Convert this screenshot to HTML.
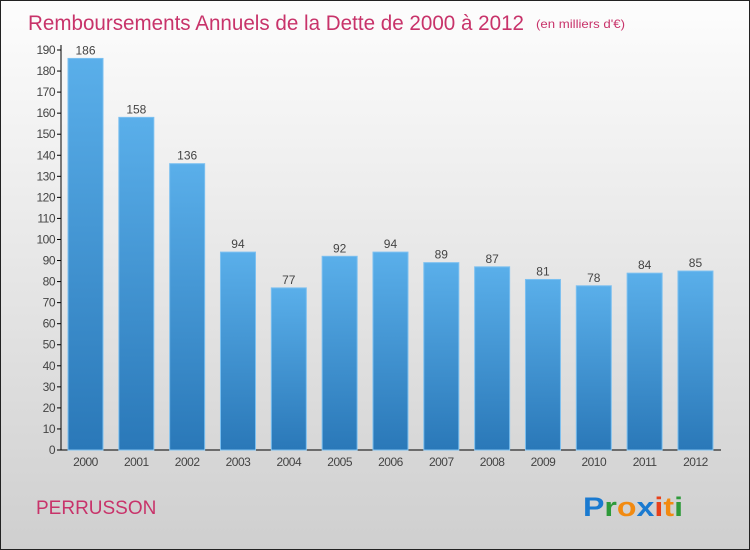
<!DOCTYPE html>
<html><head><meta charset="utf-8"><style>
body{margin:0;width:750px;height:550px;overflow:hidden;font-family:"Liberation Sans",sans-serif}
#frame{position:absolute;left:0;top:0;width:748px;height:548px;border:1px solid #222;background:linear-gradient(#fdfdfd,#cfcfcf)}
</style></head><body>
<div id="frame"></div>
<svg id="c" width="750" height="550" style="position:absolute;left:0;top:0">
<defs><linearGradient id="bg" x1="0" y1="0" x2="0" y2="1"><stop offset="0" stop-color="#5aafea"/><stop offset="1" stop-color="#2a78b8"/></linearGradient></defs>
<text x="28" y="30" font-size="21" fill="#c8336a" textLength="496" lengthAdjust="spacingAndGlyphs">Remboursements Annuels de la Dette de 2000 à 2012</text>
<text x="536" y="28" font-size="12" fill="#c8336a" textLength="89" lengthAdjust="spacingAndGlyphs">(en milliers d'€)</text>
<text x="36" y="514" font-size="19" fill="#c8336a">PERRUSSON</text>
<g font-size="27" font-weight="bold" font-family="'Liberation Sans',sans-serif">
<text x="583" y="516" textLength="100" lengthAdjust="spacingAndGlyphs"><tspan fill="#1a7ad0">P</tspan><tspan fill="#2e9a3a">r</tspan><tspan fill="#f28a10">o</tspan><tspan fill="#1a7ad0">x</tspan><tspan fill="#e8401a">i</tspan><tspan fill="#f28a10">t</tspan><tspan fill="#2e9a3a">i</tspan></text></g>
<g id="plot"></g>
</svg>
<script>
const years=["2000","2001","2002","2003","2004","2005","2006","2007","2008","2009","2010","2011","2012"];
const values=[186,158,136,94,77,92,94,89,87,81,78,84,85];
const yTicks=[0,10,20,30,40,50,60,70,80,90,100,110,120,130,140,150,160,170,180,190];
const NS="http://www.w3.org/2000/svg";
const g=document.getElementById('plot');
const y0=450,yMax=190,yTop=50,x0=68,step=50.83,bw=35;
const yS=v=>y0-(v/yMax)*(y0-yTop);
const xS=i=>x0+i*step;
function mk(t,a){const e=document.createElementNS(NS,t);for(const k in a)e.setAttribute(k,a[k]);g.appendChild(e);return e;}
let ax=mk('line',{x1:61,y1:45,x2:61,y2:450,stroke:'#000'});


let bx=mk('line',{x1:61,y1:450,x2:721,y2:450,stroke:'#000'});


yTicks.forEach(v=>{const y=yS(v);
 let t=mk('line',{x1:57,y1:y,x2:61,y2:y,stroke:'#000'});
 
 
 let l=mk('text',{x:55,y:y+4,'text-anchor':'end','font-size':12,fill:'#444','letter-spacing':'-0.5'});l.textContent=v;
 
 
});
values.forEach((v,i)=>{const x=xS(i),y=yS(v);
 let r=mk('rect',{x:x,y:y,width:bw,height:y0-y,fill:'url(#bg)',stroke:'#7cc0f0','stroke-width':1});
 
 
 let vl=mk('text',{x:x+bw/2,y:y-4,'text-anchor':'middle','font-size':12,fill:'#444'});vl.textContent=v;
 
 
 let xl=mk('text',{x:x+bw/2,y:466,'text-anchor':'middle','font-size':12,fill:'#444','letter-spacing':'-0.5'});xl.textContent=years[i];
 
 
});
</script>
</body></html>
